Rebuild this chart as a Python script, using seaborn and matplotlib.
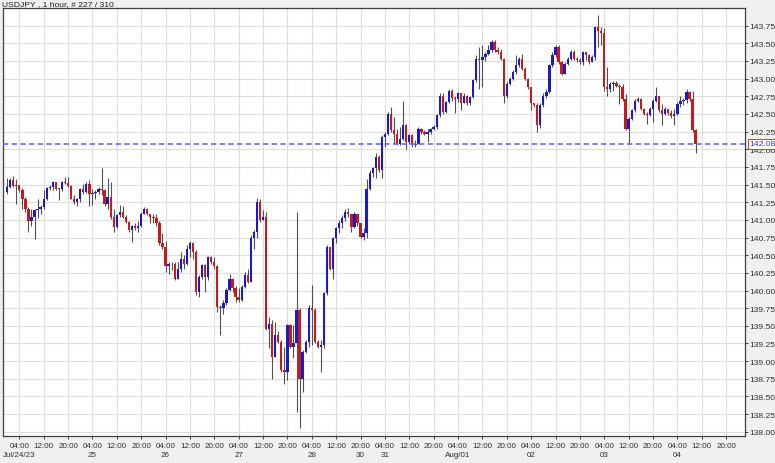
import numpy as np
import pandas as pd
import seaborn as sns
import matplotlib.pyplot as plt
import matplotlib.transforms as mtransforms

# ---- Data (USDJPY, 1 hour bars) ----
first_open = 141.40

close = [
    141.47, 141.56, 141.48, 141.49, 141.42, 141.30, 141.15, 140.99, 141.04, 141.14,
    141.16, 141.18, 141.29, 141.45, 141.47, 141.53, 141.44, 141.44, 141.54, 141.52,
    141.48, 141.30, 141.26, 141.29, 141.44, 141.40, 141.51, 141.37, 141.38, 141.40,
    141.44, 141.42, 141.23, 141.33, 141.04, 140.90, 141.07, 141.11, 141.04, 140.97,
    140.85, 140.92, 140.88, 140.92, 141.09, 141.16, 141.09, 141.04, 141.02, 140.95,
    140.67, 140.62, 140.34, 140.38, 140.37, 140.17, 140.31, 140.45, 140.38, 140.59,
    140.67, 140.55, 139.98, 140.19, 140.36, 140.19, 140.48, 140.41, 140.34, 139.77,
    139.75, 139.82, 140.01, 140.17, 140.03, 139.91, 139.86, 140.05, 140.22, 140.12,
    140.74, 140.83, 141.26, 141.00, 141.04, 139.46, 139.53, 139.06, 139.37, 139.27,
    138.87, 138.85, 139.51, 139.20, 139.25, 139.72, 138.75, 139.13, 139.27, 139.75,
    139.72, 139.27, 139.20, 139.23, 139.96, 140.62, 140.31, 140.74, 140.88, 140.95,
    141.02, 141.11, 141.09, 140.90, 141.09, 140.95, 140.76, 140.81, 141.44, 141.66,
    141.73, 141.89, 141.70, 142.17, 142.22, 142.50, 142.27, 142.22, 142.08, 142.15,
    142.34, 142.10, 142.20, 142.06, 142.08, 142.29, 142.25, 142.22, 142.25, 142.29,
    142.32, 142.48, 142.76, 142.53, 142.67, 142.83, 142.72, 142.71, 142.79, 142.66,
    142.76, 142.65, 142.74, 142.98, 143.28, 143.26, 143.31, 143.35, 143.40, 143.52,
    143.40, 143.38, 143.28, 142.76, 142.93, 143.00, 143.09, 143.19, 143.28, 143.14,
    143.00, 142.88, 142.65, 142.62, 142.34, 142.62, 142.76, 142.81, 143.19, 143.33,
    143.45, 143.24, 143.07, 143.21, 143.28, 143.38, 143.28, 143.26, 143.24, 143.38,
    143.33, 143.24, 143.31, 143.73, 143.68, 143.64, 142.88, 142.86, 142.93, 142.94,
    142.90, 142.88, 142.71, 142.29, 142.43, 142.55, 142.69, 142.71, 142.57, 142.50,
    142.48, 142.57, 142.69, 142.76, 142.55, 142.50, 142.57, 142.52, 142.47, 142.50,
    142.64, 142.69, 142.70, 142.81, 142.71, 142.27, 142.08]

high = [
    141.59, 141.59, 141.62, 141.58, 141.49, 141.45, 141.33, 141.18, 141.16, 141.16,
    141.30, 141.21, 141.42, 141.47, 141.49, 141.55, 141.54, 141.45, 141.55, 141.61,
    141.61, 141.49, 141.35, 141.31, 141.45, 141.51, 141.54, 141.56, 141.44, 141.43,
    141.47, 141.74, 141.44, 141.59, 141.54, 141.16, 141.09, 141.21, 141.20, 141.07,
    140.98, 140.93, 140.95, 140.99, 141.11, 141.18, 141.17, 141.09, 141.08, 141.09,
    140.98, 140.81, 140.70, 140.41, 140.41, 140.40, 140.41, 140.54, 140.50, 140.64,
    140.70, 140.69, 140.57, 140.22, 140.38, 140.38, 140.49, 140.49, 140.48, 140.36,
    139.79, 139.86, 140.03, 140.24, 140.18, 140.07, 140.03, 140.08, 140.26, 140.31,
    140.78, 140.85, 141.31, 141.30, 141.14, 141.11, 139.63, 139.58, 139.56, 139.42,
    139.30, 139.20, 139.53, 139.53, 139.51, 141.11, 139.75, 139.16, 139.30, 139.79,
    140.08, 139.75, 139.30, 139.30, 139.98, 140.64, 140.62, 140.76, 140.90, 141.00,
    141.07, 141.16, 141.17, 141.09, 141.11, 141.09, 140.95, 140.88, 141.58, 141.70,
    141.75, 141.94, 141.92, 142.20, 142.25, 142.53, 142.60, 142.46, 142.29, 142.32,
    142.69, 142.36, 142.22, 142.22, 142.13, 142.32, 142.30, 142.27, 142.29, 142.30,
    142.34, 142.50, 142.79, 142.79, 142.69, 142.86, 142.85, 142.76, 142.81, 142.80,
    142.79, 142.77, 142.76, 143.00, 143.33, 143.45, 143.47, 143.38, 143.47, 143.54,
    143.54, 143.45, 143.42, 143.29, 142.95, 143.02, 143.12, 143.33, 143.31, 143.35,
    143.16, 143.01, 142.88, 142.66, 142.66, 142.65, 142.79, 142.85, 143.21, 143.38,
    143.47, 143.47, 143.25, 143.24, 143.31, 143.40, 143.40, 143.31, 143.29, 143.39,
    143.38, 143.35, 143.33, 143.75, 143.90, 143.73, 143.71, 143.16, 142.95, 142.96,
    142.97, 142.93, 142.93, 142.78, 142.45, 142.57, 142.71, 142.74, 142.72, 142.58,
    142.53, 142.60, 142.71, 142.88, 142.76, 142.64, 142.60, 142.57, 142.55, 142.57,
    142.67, 142.76, 142.72, 142.85, 142.83, 142.82, 142.28]

low = [
    141.37, 141.45, 141.47, 141.23, 141.40, 141.16, 141.11, 140.83, 140.92, 140.73,
    141.02, 141.09, 141.16, 141.28, 141.42, 141.42, 141.42, 141.28, 141.41, 141.51,
    141.47, 141.29, 141.23, 141.20, 141.26, 141.37, 141.38, 141.20, 141.21, 141.30,
    141.36, 141.35, 141.20, 141.15, 141.01, 140.83, 140.88, 141.04, 141.02, 140.95,
    140.83, 140.68, 140.85, 140.83, 140.90, 141.08, 141.07, 140.96, 140.95, 140.92,
    140.64, 140.59, 140.26, 140.24, 140.29, 140.15, 140.16, 140.26, 140.31, 140.36,
    140.48, 140.45, 139.93, 139.91, 140.17, 139.98, 140.15, 140.38, 140.31, 139.70,
    139.37, 139.67, 139.79, 139.99, 139.98, 139.84, 139.84, 139.85, 140.03, 140.10,
    140.12, 140.59, 140.74, 140.97, 141.00, 139.44, 139.18, 138.75, 139.06, 139.25,
    138.85, 138.68, 138.73, 139.18, 139.04, 138.28, 138.05, 138.57, 139.11, 139.20,
    139.23, 139.25, 139.18, 138.85, 139.18, 139.93, 140.29, 140.17, 140.67, 140.81,
    140.88, 140.99, 141.04, 140.83, 140.88, 140.92, 140.74, 140.71, 140.74, 141.42,
    141.61, 141.59, 141.68, 141.59, 142.03, 142.20, 142.25, 142.08, 142.06, 142.06,
    142.13, 142.01, 142.08, 142.03, 142.03, 142.08, 142.22, 142.20, 142.10, 142.22,
    142.27, 142.29, 142.46, 142.50, 142.52, 142.66, 142.69, 142.52, 142.67, 142.55,
    142.65, 142.62, 142.62, 142.72, 142.95, 142.86, 142.88, 143.25, 143.33, 143.38,
    143.38, 143.35, 143.26, 142.65, 142.72, 142.91, 142.98, 143.07, 143.16, 143.12,
    142.98, 142.86, 142.55, 142.60, 142.25, 142.30, 142.60, 142.72, 142.79, 143.16,
    143.31, 143.21, 143.05, 143.06, 143.20, 143.26, 143.26, 143.24, 143.21, 143.19,
    143.26, 143.21, 143.23, 143.27, 143.45, 143.47, 142.83, 142.76, 142.81, 142.83,
    142.88, 142.64, 142.69, 142.27, 142.08, 142.41, 142.53, 142.67, 142.56, 142.49,
    142.36, 142.47, 142.38, 142.67, 142.53, 142.34, 142.49, 142.49, 142.44, 142.34,
    142.48, 142.60, 142.63, 142.66, 142.69, 142.25, 141.94]

# x-axis labels: one tick every 8 bars starting at bar 4 (04:00 Jul 24)
time_labels = ['04:00', '12:00', '20:00'] * 10
date_labels = ['Jul/24/23', '', '', '25', '', '', '26', '', '', '27', '', '',
               '28', '', '30', '31', '', '', 'Aug/01', '', '', '02', '', '',
               '03', '', '', '04', '', '']
price_ticks = [138.00, 138.25, 138.50, 138.75, 139.00, 139.25, 139.50, 139.75,
               140.00, 140.25, 140.50, 140.75, 141.00, 141.25, 141.50, 141.75,
               142.00, 142.25, 142.50, 142.75, 143.00, 143.25, 143.50, 143.75]
last_price = 142.08
title = 'USDJPY , 1 hour, # 227 / 310'

df = pd.DataFrame({'close': close, 'high': high, 'low': low})
df['open'] = [first_open] + close[:-1]
df['bar'] = np.arange(len(df))

# ---- Style ----
sns.set_theme(style='whitegrid')
plt.rcParams['font.family'] = ['Liberation Sans', 'DejaVu Sans']
FS = 5.8

W, H = 775, 464
fig = plt.figure(figsize=(W / 100, H / 100), dpi=100, facecolor='#f0f0f0')
ax = fig.add_axes([3 / W, (H - 437) / H, (745 - 3) / W, (437 - 9) / H])
ax.set_facecolor('white')

# ---- Candles ----
up = df['close'] > df['open']
down = df['close'] < df['open']
flat = ~(up | down)

ax.vlines(df['bar'], df['low'], df['high'], color='#505050', lw=0.8, zorder=2)
body = (df['close'] - df['open']).abs()
bottom = df[['open', 'close']].min(axis=1)
ax.bar(df['bar'][up], body[up], bottom=bottom[up], width=0.76,
       color='#1a1ac8', lw=0, zorder=3)
ax.bar(df['bar'][down], body[down], bottom=bottom[down], width=0.76,
       color='#c81a1a', lw=0, zorder=3)
ax.bar(df['bar'][flat], 0.012, bottom=bottom[flat], width=0.76,
       color='#505050', lw=0, zorder=3)

# current price line and label
ax.axhline(last_price, color='#6a6aee', lw=1.2, ls=(0, (3.2, 2.0)), zorder=4)
trans = mtransforms.blended_transform_factory(ax.transAxes, ax.transData)
ax.text(1.0055, last_price, f'{last_price:.2f}', transform=trans, ha='left',
        va='center', fontsize=FS + 0.3, color='#3030e0', zorder=6,
        bbox=dict(boxstyle='square,pad=0.18', fc='white', ec='#e04040', lw=0.8))

# ---- Axes ----
ax.set_xlim(-1.35, 242.2)
ax.set_ylim(137.94, 144.0)

grid_pos = 4 + 8 * np.arange(len(time_labels))
ax.set_xticks(grid_pos, [t + '\n' + d for t, d in zip(time_labels, date_labels)])
for lab in ax.get_xticklabels():
    lab.set_linespacing(1.4)
ax.tick_params(axis='x', length=2.5, width=0.7, color='#404040', pad=1.5,
               labelsize=FS, labelcolor='#303030', bottom=True)

ax.yaxis.tick_right()
ax.set_yticks(price_ticks, [f'{v:.2f}' for v in price_ticks])
ax.tick_params(axis='y', length=2.5, width=0.7, color='#404040', pad=0.5,
               labelsize=FS + 0.3, labelcolor='#303030', right=True)

ax.grid(True, which='major', color='#dedede', lw=0.8)
ax.set_axisbelow(True)
for s in ax.spines.values():
    s.set_color('#404040')
    s.set_linewidth(0.9)

fig.text(2 / W, 1 - 5 / H, title, ha='left', va='center', fontsize=FS + 0.3,
         color='#202020')

fig.savefig('out.png', dpi=100, facecolor=fig.get_facecolor())
